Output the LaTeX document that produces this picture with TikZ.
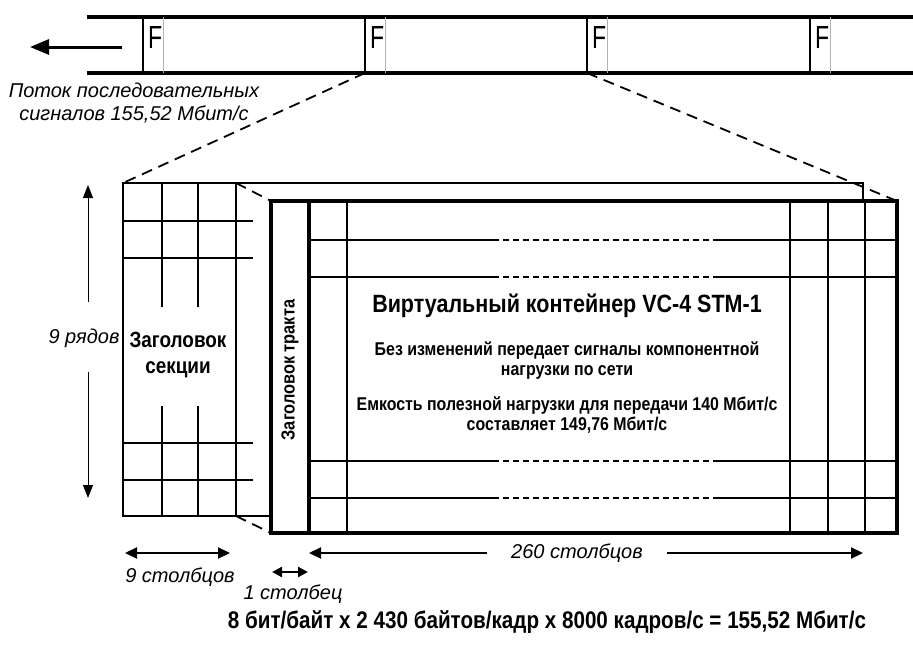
\documentclass[tikz,border=0pt]{standalone}
\usepackage{fontspec}
\setmainfont{Liberation Sans}
\newfontfamily\condfont{Liberation Sans}[FakeStretch=0.86]
\usetikzlibrary{arrows.meta, positioning}

\begin{document}
\begin{tikzpicture}[
    x=1pt, y=-1pt,
    % Styles for the frame drawing
    edge/.style={line width=3.2pt, draw=black},
    gridline/.style={line width=2.4pt, draw=black},
    thinline/.style={line width=0.7pt, draw=black!30},
    dashline/.style={line width=1.8pt, dash pattern=on 11pt off 7pt},
    fillline/.style={line width=1.2pt, dash pattern=on 6pt off 4pt},
    dimarrow/.style={line width=2.2pt, -{Triangle[length=12pt,width=11pt]}},
    lbl/.style={font=\itshape\fontsize{20}{23.5}\selectfont, align=center, inner sep=0pt},
    head/.style={font=\condfont\bfseries\fontsize{22}{26}\selectfont, align=center, inner sep=0pt},
    txt/.style={font=\condfont\bfseries\fontsize{18.5}{20}\selectfont, align=center, inner sep=0pt}
]
\useasboundingbox (0,0) rectangle (913,648);

        % --- Stream of frames ---
        \coordinate (s1) at (87,17);
        \coordinate (s2) at (913,17);
        \coordinate (s3) at (87,73);
        \coordinate (s4) at (913,73);
        \draw[edge] (s1) -- (s2);
        \draw[edge] (s3) -- (s4);
        \foreach \x [count=\i] in {143,365,587,810} {
            \coordinate (ft\i) at (\x,17);
            \coordinate (fb\i) at (\x,73);
            \draw[edge, line width=2.8pt] (ft\i) -- (fb\i);
            \draw[thinline] (\x+20,17) -- (\x+20,73);
            \node[anchor=west, inner sep=0pt, xscale=0.72,
                  font=\fontsize{32}{32}\selectfont] (f\i) at (\x+5,37) {F};
        }
        \coordinate (arr1) at (122,47);
        \coordinate (arr2) at (30,47);
        \draw[line width=3pt, -{Triangle[length=19pt,width=15pt]}] (arr1) -- (arr2);
        \node[lbl] (stream) at (134,103) {Поток последовательных\\сигналов 155,52 Мбит/с};

        % --- Frame: back box with section overhead ---
        \node[draw, line width=2.6pt, fill=white, outer sep=0pt, inner sep=0pt,
              minimum width=740, minimum height=333] (back) at (493,349.5) {};
        \draw[dashline] (fb2) -- (back.north west);
        \draw[dashline] (fb3) -- (897,201);
        \foreach \y in {221,258,443,480}
            \draw[gridline] (123,\y) -- (253,\y);
        \foreach \x in {162,198} {
            \draw[gridline] (\x,183) -- (\x,307);
            \draw[gridline] (\x,406) -- (\x,516);
        }
        \draw[gridline] (236,183) -- (236,516);
        \node[head] (soh) at (178,355) {Заголовок\\секции};

        % --- Virtual container VC-4 ---
        \node[draw, line width=3.6pt, fill=white, outer sep=0pt, inner sep=0pt,
              minimum width=626, minimum height=332] (vc) at (584,367) {};
        \draw[dashline] (236,183) -- (vc.north west);
        \draw[dashline] (236,516) -- (vc.south west);
        \draw[line width=3.2pt] (309,201) -- (309,533);
        \foreach \x in {347,790,828,865}
            \draw[gridline] (\x,201) -- (\x,533);
        \foreach \y in {240,277,461,498} {
            \draw[gridline] (309,\y) -- (493,\y);
            \draw[fillline] (493,\y) -- (713,\y);
            \draw[gridline] (713,\y) -- (897,\y);
        }
        \node[txt, font=\condfont\bfseries\fontsize{19}{19}\selectfont, rotate=90] (poh) at (290,370) {Заголовок тракта};
        \node[head, font=\condfont\bfseries\fontsize{25}{25}\selectfont] (title) at (567,306) {Виртуальный контейнер VC-4 STM-1};
        \node[txt] (note1) at (567,361) {Без изменений передает сигналы компонентной\\нагрузки по сети};
        \node[txt] (note2) at (567,415) {Емкость полезной нагрузки для передачи 140 Мбит/с\\составляет 149,76 Мбит/с};

        % --- Dimensions ---
        \node[lbl] (rows) at (84,338) {9 рядов};
        \coordinate (r1) at (88,302);
        \coordinate (r2) at (88,185);
        \coordinate (r3) at (88,372);
        \coordinate (r4) at (88,498);
        \draw[line width=1pt, -{Triangle[length=13pt,width=10pt]}] (r1) -- (r2);
        \draw[line width=1pt, -{Triangle[length=13pt,width=10pt]}] (r3) -- (r4);

        \coordinate (c1) at (125,553);
        \coordinate (c2) at (230,553);
        \draw[dimarrow, {Triangle[length=12pt,width=11pt]}-{Triangle[length=12pt,width=11pt]}] (c1) -- (c2);
        \node[lbl] (cols9) at (180,577) {9 столбцов};
        \coordinate (c3) at (272,572);
        \coordinate (c4) at (308,572);
        \draw[dimarrow, {Triangle[length=10pt,width=10pt]}-{Triangle[length=10pt,width=10pt]}] (c3) -- (c4);
        \node[lbl] (cols1) at (293,594) {1 столбец};
        \node[lbl] (cols260) at (577,553) {260 столбцов};
        \coordinate (c5) at (487,553);
        \coordinate (c6) at (309,553);
        \coordinate (c7) at (667,553);
        \coordinate (c8) at (863,553);
        \draw[dimarrow] (c5) -- (c6);
        \draw[dimarrow] (c7) -- (c8);

        % --- Rate ---
        \node[head, font=\condfont\bfseries\fontsize{24}{24}\selectfont] (rate) at (547,622) {8 бит/байт x 2 430 байтов/кадр x 8000 кадров/с = 155,52 Мбит/с};

    \end{tikzpicture}
\end{document}
